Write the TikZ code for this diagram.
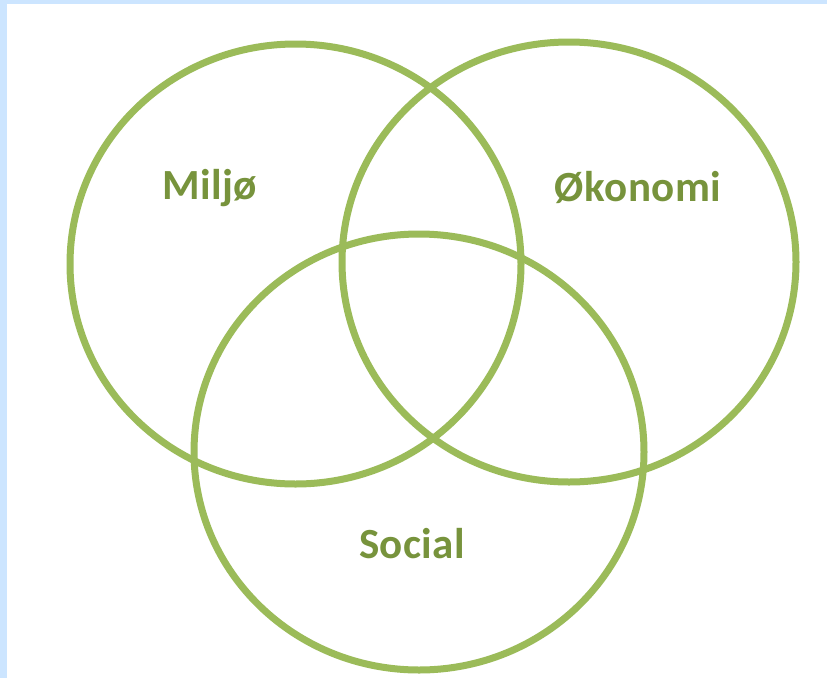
\documentclass[tikz,border=0pt]{standalone}
\usepackage{fontspec}
\setmainfont{Carlito}
\definecolor{ringgreen}{HTML}{9BBB59}
\definecolor{textgreen}{HTML}{77933C}
\definecolor{frameblue}{HTML}{CCE5FF}
\begin{document}
\begin{tikzpicture}[x=1pt,y=-1pt,
  ring/.style={draw=ringgreen,line width=7pt},
  lbl/.style={text=textgreen,font=\fontsize{43}{43}\selectfont\bfseries\addfontfeatures{LetterSpace=1},inner sep=0pt,anchor=base}]
\useasboundingbox (0,0) rectangle (827,678);
\fill[frameblue] (0,0) rectangle (827,4);
\fill[frameblue] (0,0) rectangle (7,678);
\fill[white] (7,4) rectangle (827,678);
\draw[ring] (295.5,264) ellipse [x radius=225.5, y radius=220];
\draw[ring] (569,262) ellipse [x radius=227, y radius=220];
\draw[ring] (419,452) ellipse [x radius=225, y radius=218];
\node[lbl] (m) at (210,199) {Miljø};
\node[lbl] (o) at (638,201) {Økonomi};
\node[lbl] (s) at (412,558) {Social};
\end{tikzpicture}
\end{document}
